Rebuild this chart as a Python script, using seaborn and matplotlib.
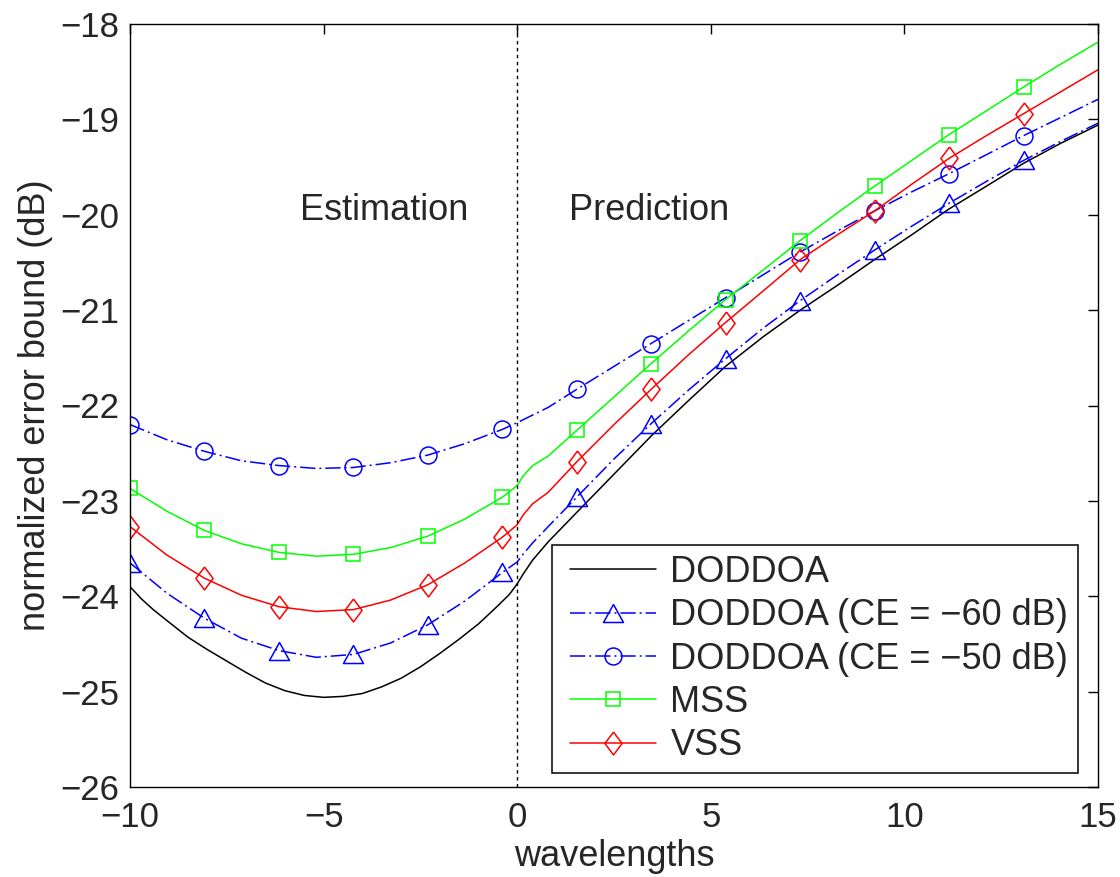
import matplotlib
matplotlib.use("Agg")
import matplotlib.pyplot as plt
from matplotlib.lines import Line2D
from matplotlib.legend_handler import HandlerLine2D
import seaborn as sns
import pandas as pd

# ---- data ----
x_wl = [-10, -9.04, -8.08, -7.12, -6.15, -5.19, -4.23, -3.27, -2.31, -1.35,
        -0.38, 0, 0.15, 0.4, 0.8, 1.54, 2.5, 3.46, 4.42, 5.38,
        6.35, 7.31, 8.27, 9.23, 10.19, 11.15, 12.12, 13.08, 14.04, 15]

x_black = [-10, -9.7, -9.4, -9.0, -8.5, -8.0, -7.5, -7.0, -6.5, -6.0,
           -5.5, -5.0, -4.5, -4.0, -3.5, -3.0, -2.5, -2.0, -1.5, -1.0,
           -0.5, -0.2, 0, 0.15, 0.4, 0.8, 1.54, 2.5, 3.46, 4.42,
           5.38, 6.35, 7.31, 8.27, 9.23, 10.19, 11.15, 12.12, 13.08, 14.04, 15]

doddoa = [-23.90, -24.03, -24.14, -24.27, -24.43, -24.56, -24.68, -24.80, -24.91, -24.99,
          -25.04, -25.06, -25.05, -25.02, -24.95, -24.86, -24.74, -24.60, -24.45, -24.29,
          -24.10, -23.98, -23.87, -23.77, -23.62, -23.43, -23.12, -22.72, -22.32, -21.95,
          -21.59, -21.28, -21.00, -20.74, -20.47, -20.21, -19.94, -19.70, -19.46, -19.25, -19.06]

doddoa_ce60 = [-23.65, -23.97, -24.23, -24.44, -24.57, -24.64, -24.61, -24.49, -24.30, -24.05,
               -23.75, -23.64, -23.56, -23.44, -23.27, -22.96, -22.56, -22.19, -21.84, -21.51,
               -21.19, -20.90, -20.63, -20.37, -20.12, -19.88, -19.65, -19.43, -19.23, -19.04]

doddoa_ce50 = [-22.20, -22.36, -22.48, -22.58, -22.63, -22.66, -22.65, -22.60, -22.52, -22.40,
               -22.25, -22.18, -22.15, -22.10, -22.02, -21.83, -21.59, -21.35, -21.11, -20.87,
               -20.63, -20.39, -20.17, -19.96, -19.76, -19.57, -19.37, -19.17, -18.98, -18.79]

mss = [-22.87, -23.11, -23.31, -23.45, -23.54, -23.58, -23.56, -23.49, -23.37, -23.19,
       -22.96, -22.84, -22.74, -22.63, -22.53, -22.26, -21.91, -21.56, -21.22, -20.89,
       -20.58, -20.27, -19.98, -19.70, -19.43, -19.16, -18.91, -18.66, -18.42, -18.19]

vss = [-23.27, -23.57, -23.81, -23.99, -24.11, -24.16, -24.14, -24.04, -23.88, -23.65,
       -23.38, -23.25, -23.15, -23.03, -22.91, -22.59, -22.20, -21.83, -21.47, -21.13,
       -20.80, -20.47, -20.21, -19.96, -19.68, -19.41, -19.17, -18.94, -18.71, -18.48]

marker_idx = [0, 2, 4, 6, 8, 10, 15, 17, 19, 21, 23, 25, 27]

labels = ["DODDOA", "DODDOA (CE = \u221260 dB)", "DODDOA (CE = \u221250 dB)", "MSS", "VSS"]
x_ticks = [-10, -5, 0, 5, 10, 15]
y_ticks = [-26, -25, -24, -23, -22, -21, -20, -19, -18]

# ---- style ----
sns.set_style("white")
plt.rcParams['font.family'] = ['Liberation Sans', 'DejaVu Sans']
FS = 26
FS_TICK = 25
plt.rcParams['font.size'] = FS

fig = plt.figure(figsize=(11.2, 8.77), dpi=100)
ax = fig.add_axes([130 / 1120, 1 - 787 / 877, 968 / 1120, 763 / 877])

df = pd.DataFrame({"x": x_wl, "d60": doddoa_ce60, "d50": doddoa_ce50,
                   "mss": mss, "vss": vss})
df_black = pd.DataFrame({"x": x_black, "d": doddoa})

dashdot = (0, (10, 2.6, 1.3, 2.6))
tri = [(0, 0.9), (1, -0.9), (-1, -0.9), (0, 0.9)]
dia = [(0, 1), (0.75, 0), (0, -1), (-0.75, 0), (0, 1)]

specs = [
    (df_black, "d", labels[0], "#000000", "-", None, 0),
    (df, "d60", labels[1], "#0000ff", dashdot, tri, 14.4),
    (df, "d50", labels[2], "#0000ff", dashdot, "o", 12.2),
    (df, "mss", labels[3], "#00ff00", "-", "s", 10.6),
    (df, "vss", labels[4], "#ff0000", "-", dia, 16.5),
]

for data, col, lab, colr, ls, mk, ms in specs:
    kw = dict(color=colr, linewidth=1.1, linestyle=ls, label=lab)
    if mk is not None:
        kw.update(marker=mk, markersize=ms, markevery=marker_idx,
                  markerfacecolor="none", markeredgecolor=colr, markeredgewidth=1.1)
    sns.lineplot(data=data, x="x", y=col, ax=ax, sort=False, estimator=None, **kw)

ax.axvline(0, color="black", linewidth=1.0, linestyle=(0, (2.5, 2.5)))

ax.text(-5.62, -19.96, "Estimation", ha="left", va="center", fontsize=FS)
ax.text(1.34, -19.96, "Prediction", ha="left", va="center", fontsize=FS)

ax.set_xlim(-10, 15)
ax.set_ylim(-26, -18)
ax.set_xticks(x_ticks)
ax.set_yticks(y_ticks)
ax.set_xlabel("wavelengths", fontsize=FS, labelpad=4)
ax.set_ylabel("normalized error bound (dB)", fontsize=FS, labelpad=5)
ax.tick_params(axis="both", direction="in", top=True, right=True, length=7,
               width=1.0, labelsize=FS_TICK, color="black")
ax.tick_params(axis="y", pad=8)
ax.tick_params(axis="x", pad=10)
for sp in ax.spines.values():
    sp.set_visible(True)
    sp.set_color("black")
    sp.set_linewidth(1.0)

leg = ax.legend(loc="lower right", bbox_to_anchor=(948 / 968, 14 / 763), borderaxespad=0,
                fontsize=FS, frameon=True, fancybox=False, framealpha=1, edgecolor="black",
                handlelength=2.63, handletextpad=0.39, borderpad=0.27, labelspacing=0.23,
                numpoints=1, handler_map={Line2D: HandlerLine2D(xpad=0.25)})
leg.get_frame().set_linewidth(1.1)

fig.savefig("out.png", dpi=100)
